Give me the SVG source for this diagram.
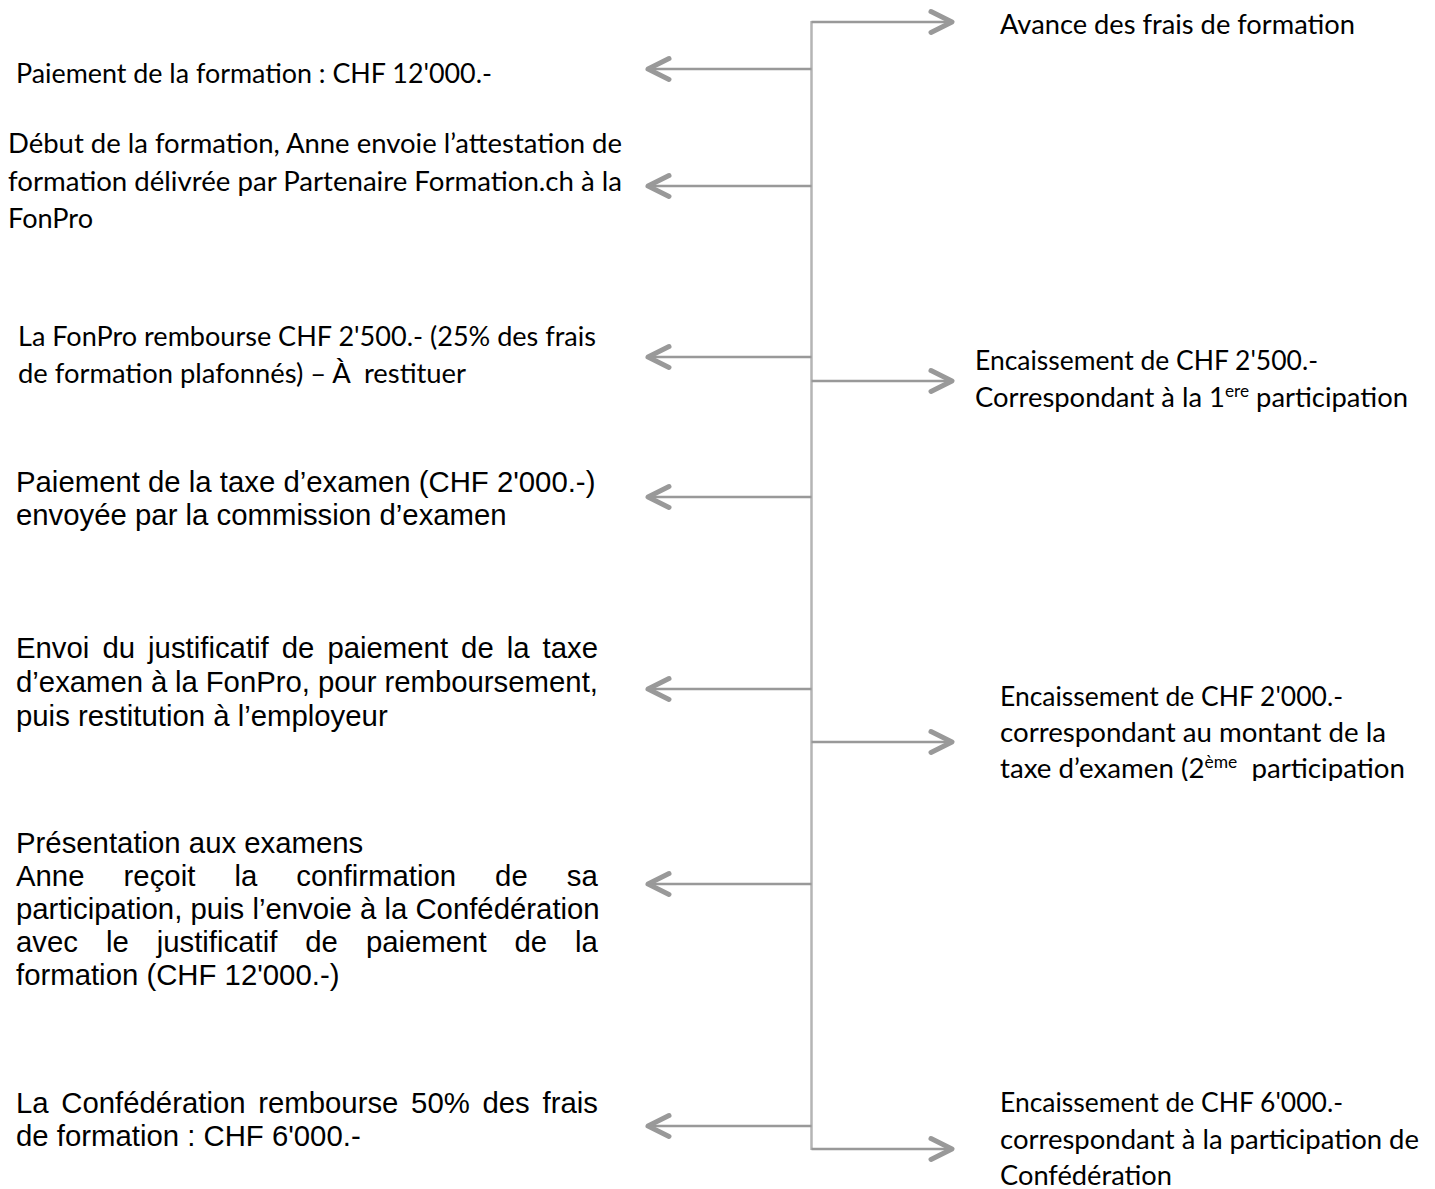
<svg xmlns="http://www.w3.org/2000/svg" width="1435" height="1189" viewBox="0 0 1435 1189">
<style>
.c{font-family:Lato,"Open Sans","Liberation Sans",sans-serif;font-size:27px;fill:#000}
.a{font-family:"Liberation Sans",Arial,sans-serif;font-size:29.33px;fill:#000}
.sup{font-size:17px}
.h{stroke:#999;stroke-width:2.5;fill:none}
.v{stroke:#b5b5b5;stroke-width:2.5;fill:none}
</style>
<defs>
<marker id="chev" markerUnits="userSpaceOnUse" viewBox="-26 -15 30 30" refX="0" refY="0" markerWidth="30" markerHeight="30" orient="auto" overflow="visible">
<path d="M-21,-10.5 L0,0 L-21,10.5" fill="none" stroke="#999" stroke-width="5" stroke-linecap="round" stroke-linejoin="round"/>
</marker>
<clipPath id="clipTaxe"><rect x="990" y="670" width="445" height="111"/></clipPath>
</defs>
<rect width="1435" height="1189" fill="#fff"/>
<g id="connectors">
<path class="v" d="M811.5,21 V1150"/>
<path class="h" d="M811.5,22 H952" marker-end="url(#chev)"/>
<path class="h" d="M811.5,381 H952" marker-end="url(#chev)"/>
<path class="h" d="M811.5,742 H952" marker-end="url(#chev)"/>
<path class="h" d="M811.5,1149 H952" marker-end="url(#chev)"/>
<path class="h" d="M811.5,69 H648" marker-end="url(#chev)"/>
<path class="h" d="M811.5,186 H648" marker-end="url(#chev)"/>
<path class="h" d="M811.5,357 H648" marker-end="url(#chev)"/>
<path class="h" d="M811.5,497 H648" marker-end="url(#chev)"/>
<path class="h" d="M811.5,689 H648" marker-end="url(#chev)"/>
<path class="h" d="M811.5,884 H648" marker-end="url(#chev)"/>
<path class="h" d="M811.5,1126 H648" marker-end="url(#chev)"/>
</g>
<g id="avance">
<text class="c" x="1000" y="34" textLength="355" lengthAdjust="spacingAndGlyphs">Avance des frais de formation</text>
</g>
<g id="paiement-formation">
<text class="c" x="16" y="83" textLength="476" lengthAdjust="spacingAndGlyphs">Paiement de la formation : CHF 12'000.-</text>
</g>
<g id="debut-formation">
<text class="c" x="8" y="153" textLength="614" lengthAdjust="spacingAndGlyphs">Début de la formation, Anne envoie l’attestation de</text>
<text class="c" x="8" y="191" textLength="614" lengthAdjust="spacingAndGlyphs">formation délivrée par Partenaire Formation.ch à la</text>
<text class="c" x="8" y="228" textLength="85" lengthAdjust="spacingAndGlyphs">FonPro</text>
</g>
<g id="fonpro-rembourse">
<text class="c" x="18" y="346" textLength="578" lengthAdjust="spacingAndGlyphs">La FonPro rembourse CHF 2'500.- (25% des frais</text>
<text class="c" x="18" y="383" textLength="448" lengthAdjust="spacingAndGlyphs" xml:space="preserve">de formation plafonnés) – À  restituer</text>
</g>
<g id="encaissement-2500">
<text class="c" x="975" y="370" textLength="343" lengthAdjust="spacingAndGlyphs">Encaissement de CHF 2'500.-</text>
<text class="c" x="975" y="407" textLength="433" lengthAdjust="spacingAndGlyphs">Correspondant à la 1<tspan class="sup" dy="-10">ere</tspan><tspan dy="10"> participation</tspan></text>
</g>
<g id="taxe-examen">
<text class="a" x="16" y="492">Paiement de la taxe d’examen (CHF 2'000.-)</text>
<text class="a" x="16" y="525">envoyée par la commission d’examen</text>
</g>
<g id="envoi-justificatif">
<text class="a" y="658"><tspan x="16">Envoi</tspan><tspan x="102.4">du</tspan><tspan x="148.1">justificatif</tspan><tspan x="281.7">de</tspan><tspan x="327.4">paiement</tspan><tspan x="461.1">de</tspan><tspan x="506.7">la</tspan><tspan x="542.6">taxe</tspan></text>
<text class="a" y="692"><tspan x="16">d’examen</tspan><tspan x="150.9">à</tspan><tspan x="175.1">la</tspan><tspan x="205.7">FonPro,</tspan><tspan x="317.9">pour</tspan><tspan x="384.4">remboursement,</tspan></text>
<text class="a" x="16" y="726">puis restitution à l’employeur</text>
</g>
<g id="encaissement-2000" clip-path="url(#clipTaxe)">
<text class="c" x="1000" y="706" textLength="343" lengthAdjust="spacingAndGlyphs">Encaissement de CHF 2'000.-</text>
<text class="c" x="1000" y="742" textLength="386" lengthAdjust="spacingAndGlyphs">correspondant au montant de la</text>
<text class="c" x="1000" y="778" textLength="405" lengthAdjust="spacingAndGlyphs" xml:space="preserve">taxe d’examen (2<tspan class="sup" dy="-10">ème</tspan><tspan dy="10">  participation</tspan></text>
</g>
<g id="presentation-examens">
<text class="a" x="16" y="853">Présentation aux examens</text>
<text class="a" y="886"><tspan x="16">Anne</tspan><tspan x="123.6">reçoit</tspan><tspan x="234.4">la</tspan><tspan x="296.3">confirmation</tspan><tspan x="495.1">de</tspan><tspan x="566.8">sa</tspan></text>
<text class="a" x="16" y="919">participation, puis l’envoie à la Confédération</text>
<text class="a" y="952"><tspan x="16">avec</tspan><tspan x="105.9">le</tspan><tspan x="156.7">justificatif</tspan><tspan x="305.3">de</tspan><tspan x="365.9">paiement</tspan><tspan x="514.5">de</tspan><tspan x="575.1">la</tspan></text>
<text class="a" x="16" y="985">formation (CHF 12'000.-)</text>
</g>
<g id="confederation-rembourse">
<text class="a" y="1113"><tspan x="16">La</tspan><tspan x="61.3">Confédération</tspan><tspan x="258.2">rembourse</tspan><tspan x="411.1">50%</tspan><tspan x="482.5">des</tspan><tspan x="542.5">frais</tspan></text>
<text class="a" x="16" y="1146">de formation : CHF 6'000.-</text>
</g>
<g id="encaissement-6000">
<text class="c" x="1000" y="1112" textLength="343" lengthAdjust="spacingAndGlyphs">Encaissement de CHF 6'000.-</text>
<text class="c" x="1000" y="1149" textLength="419" lengthAdjust="spacingAndGlyphs">correspondant à la participation de</text>
<text class="c" x="1000" y="1185" textLength="172" lengthAdjust="spacingAndGlyphs">Confédération</text>
</g>
</svg>
